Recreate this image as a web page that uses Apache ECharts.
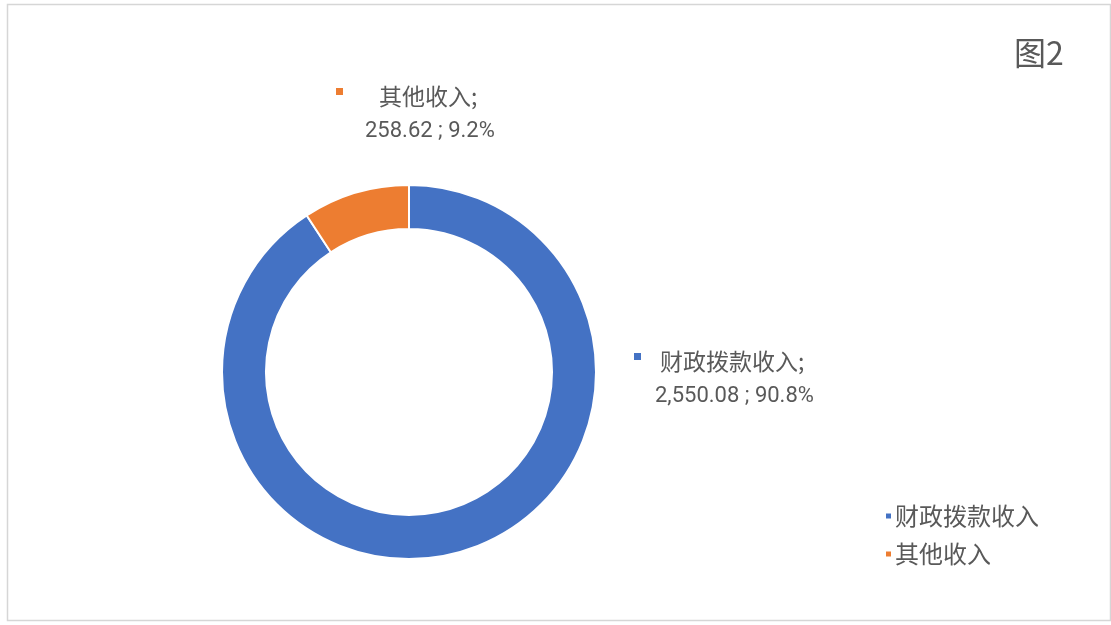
<!DOCTYPE html>
<html>
<head>
<meta charset="utf-8">
<script src="https://cdn.jsdelivr.net/npm/echarts@6/dist/echarts.min.js"></script>
<style>
html,body{margin:0;padding:0;background:#fff;}
#chart{width:1111px;height:625px;}
</style>
</head>
<body>
<div id="chart"></div>
<script>
var categories = ['财政拨款收入', '其他收入'];
var values = [2550.08, 258.62];
var colors = ['#4472C4', '#ED7D31'];
var chartTitle = '图2';

var cjk = '"Noto Sans CJK SC", "Noto Sans", sans-serif';
var txtColor = '#595959';

// per-item label spacing (style only)
var labelPad = [
  { name: 19, value: 21 },
  { name: 36, value: 29 }
];
var labelPos = [
  { x: 634, y: 344 },
  { x: 336, y: 79 }
];

var total = values.reduce(function (a, b) { return a + b; }, 0);

function fmt(v) {
  return v.toLocaleString('en-US', { minimumFractionDigits: 2, maximumFractionDigits: 2 });
}

// small square marker raised slightly above the text middle
function markerImage(color) {
  var cv = document.createElement('canvas');
  cv.width = 7; cv.height = 17;
  var ctx = cv.getContext('2d');
  ctx.fillStyle = color;
  ctx.fillRect(0, 0, 7, 7);
  return cv;
}

var data = categories.map(function (c, i) {
  return {
    name: c,
    value: values[i],
    itemStyle: { color: colors[i] },
    label: {
      rich: {
        m: { width: 7, height: 17, backgroundColor: { image: markerImage(colors[i]) }, verticalAlign: 'middle' },
        n: { fontFamily: cjk, fontSize: 23, color: txtColor, padding: [0, 0, 0, labelPad[i].name], lineHeight: 35 },
        v: { fontFamily: 'Roboto, sans-serif', fontSize: 22, color: txtColor, padding: [0, 0, 0, labelPad[i].value], lineHeight: 35 }
      }
    }
  };
});

var chart = echarts.init(document.getElementById('chart'), null, { renderer: 'canvas' });
chart.setOption({
  backgroundColor: '#fff',
  animation: false,
  graphic: [{
    type: 'rect',
    shape: { x: 7.5, y: 4.5, width: 1103, height: 616 },
    style: { fill: 'none', stroke: '#d6d6d6', lineWidth: 1.5 },
    silent: true
  }],
  title: {
    text: chartTitle,
    left: 1009,
    top: 32,
    textStyle: { fontFamily: cjk, fontSize: 32, fontWeight: 'normal', color: txtColor }
  },
  legend: {
    orient: 'vertical',
    left: 879,
    top: 499,
    icon: 'rect',
    itemWidth: 7,
    itemHeight: 7,
    itemGap: 14,
    data: categories,
    textStyle: { fontFamily: cjk, fontSize: 24, color: txtColor, lineHeight: 24, padding: [0, 0, 0, -2] }
  },
  series: [{
    type: 'pie',
    center: [409, 372],
    radius: [143, 187],
    startAngle: 90,
    clockwise: true,
    percentPrecision: 1,
    itemStyle: { borderColor: '#fff', borderWidth: 2 },
    label: {
      show: true,
      position: 'outside',
      align: 'left',
      formatter: function (p) {
        return '{m|}{n|' + p.name + ';}\n{v|' + fmt(p.value) + ' ; ' + (p.value / total * 100).toFixed(1) + '%}';
      }
    },
    labelLine: { show: false },
    labelLayout: function (params) {
      var pos = labelPos[params.dataIndex];
      return { x: pos.x, y: pos.y, align: 'left', verticalAlign: 'top' };
    },
    emphasis: { disabled: true },
    data: data
  }]
});
</script>
</body>
</html>
